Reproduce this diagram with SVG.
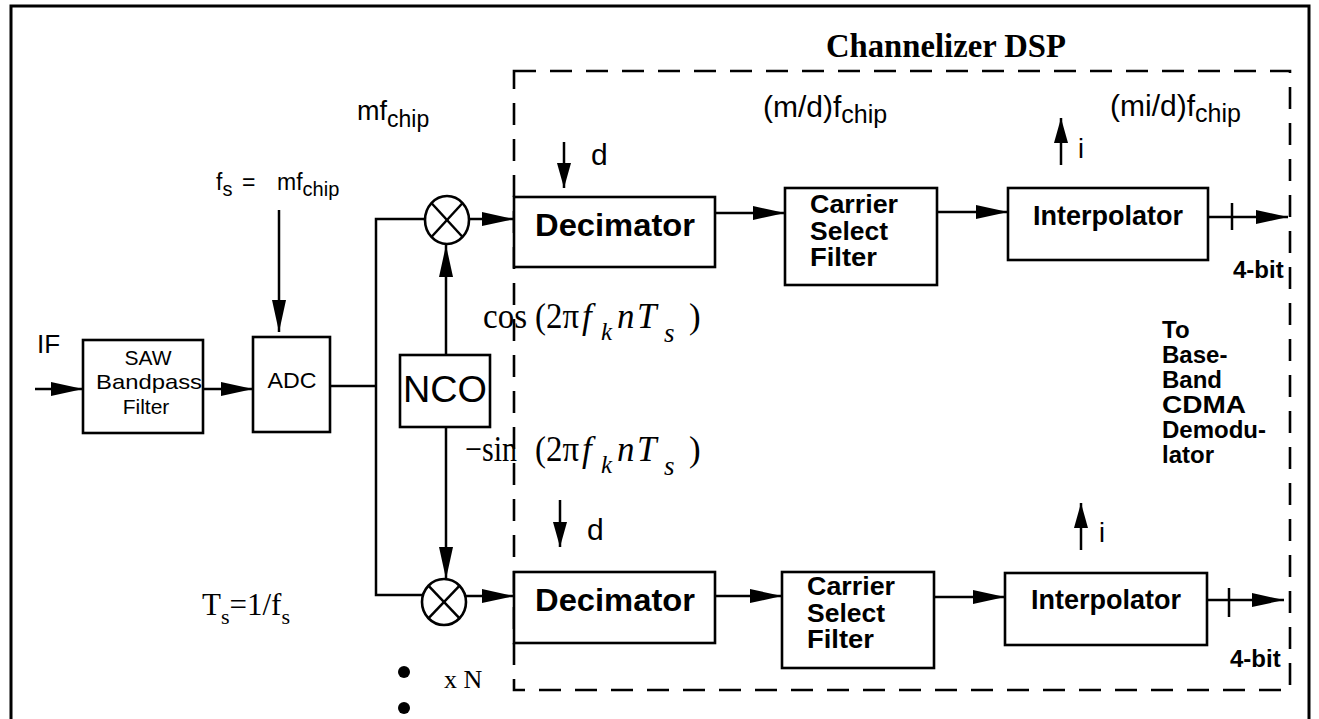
<svg xmlns="http://www.w3.org/2000/svg" width="1319" height="719" viewBox="0 0 1319 719">
<style>
.ln{stroke:#000;stroke-width:2.5;fill:none}
.bx{stroke:#000;stroke-width:2.6;fill:#fff}
.dash{stroke:#000;stroke-width:2.6;fill:none;stroke-dasharray:22 14}
.sans{font-family:"Liberation Sans",Arial,Helvetica,sans-serif;fill:#000}
.b{font-weight:bold}
.ser{font-family:"Liberation Serif","Times New Roman",serif;fill:#000}
.it{font-style:italic}
</style>
<defs>
<marker id="arr" markerUnits="userSpaceOnUse" markerWidth="32" markerHeight="14" refX="32" refY="7" orient="auto" viewBox="0 0 32 14">
<path d="M0,0 L32,7 L0,14 Z" fill="#000"/>
</marker>
<marker id="arrv" markerUnits="userSpaceOnUse" markerWidth="25" markerHeight="14" refX="25" refY="7" orient="auto" viewBox="0 0 25 14">
<path d="M0,0 L25,7 L0,14 Z" fill="#000"/>
</marker>
</defs>
<rect width="1319" height="719" fill="#fff"/>

<!-- outer frame -->
<rect x="11" y="6" width="1298" height="760" fill="none" stroke="#000" stroke-width="3"/>

<!-- Channelizer DSP boundary -->
<g id="channelizer">
<rect class="dash" x="514" y="71" width="776" height="619"/>
<text class="ser b" x="826" y="57" font-size="34" textLength="240" lengthAdjust="spacingAndGlyphs">Channelizer DSP</text>
</g>

<!-- connectors -->
<g id="connectors">
<line class="ln" x1="35" y1="389" x2="83" y2="389" marker-end="url(#arr)"/>
<line class="ln" x1="203" y1="389" x2="253" y2="389" marker-end="url(#arr)"/>
<line class="ln" x1="279" y1="210" x2="279" y2="332" marker-end="url(#arr)"/>
<polyline class="ln" points="330,386 376,386"/>
<polyline class="ln" points="425,219 376,219 376,595 422,595"/>
<line class="ln" x1="446" y1="355" x2="446" y2="245" marker-end="url(#arr)"/>
<line class="ln" x1="446" y1="427" x2="446" y2="579" marker-end="url(#arr)"/>
<line class="ln" x1="469" y1="219" x2="514" y2="219" marker-end="url(#arr)"/>
<line class="ln" x1="466" y1="596" x2="514" y2="596" marker-end="url(#arr)"/>
<line class="ln" x1="715" y1="213" x2="785" y2="213" marker-end="url(#arr)"/>
<line class="ln" x1="937" y1="212" x2="1008" y2="212" marker-end="url(#arr)"/>
<line class="ln" x1="1208" y1="217" x2="1288" y2="217" marker-end="url(#arr)"/>
<line class="ln" x1="1232" y1="203" x2="1232" y2="230"/>
<line class="ln" x1="715" y1="596" x2="782" y2="596" marker-end="url(#arr)"/>
<line class="ln" x1="934" y1="597" x2="1005" y2="597" marker-end="url(#arr)"/>
<line class="ln" x1="1207" y1="600" x2="1284" y2="600" marker-end="url(#arr)"/>
<line class="ln" x1="1229" y1="588" x2="1229" y2="617"/>
<!-- rate change arrows -->
<line class="ln" x1="564" y1="142" x2="564" y2="188" marker-end="url(#arrv)"/>
<line class="ln" x1="560" y1="500" x2="560" y2="547" marker-end="url(#arrv)"/>
<line class="ln" x1="1061" y1="165" x2="1061" y2="118" marker-end="url(#arrv)"/>
<line class="ln" x1="1081" y1="550" x2="1081" y2="503" marker-end="url(#arrv)"/>
</g>

<!-- nodes -->
<g id="saw">
<rect class="bx" x="83" y="340" width="120" height="93"/>
<text class="sans" x="148" y="365" font-size="21" text-anchor="middle">SAW</text>
<text class="sans" x="149" y="389" font-size="21" text-anchor="middle" textLength="106" lengthAdjust="spacingAndGlyphs">Bandpass</text>
<text class="sans" x="146" y="414" font-size="21" text-anchor="middle">Filter</text>
</g>
<g id="adc">
<rect class="bx" x="253" y="337" width="77" height="95"/>
<text class="sans" x="292" y="388" font-size="22" text-anchor="middle" textLength="49" lengthAdjust="spacingAndGlyphs">ADC</text>
</g>
<g id="nco">
<rect class="bx" x="400" y="355" width="90" height="72"/>
<text class="sans" x="445" y="402" font-size="36" text-anchor="middle" textLength="84" lengthAdjust="spacingAndGlyphs">NCO</text>
</g>
<g id="mixer-top">
<ellipse class="bx" cx="447" cy="220" rx="22" ry="24"/>
<line class="ln" x1="431.4" y1="203" x2="462.6" y2="237"/>
<line class="ln" x1="462.6" y1="203" x2="431.4" y2="237"/>
</g>
<g id="mixer-bottom">
<ellipse class="bx" cx="444" cy="602" rx="22" ry="23"/>
<line class="ln" x1="428.4" y1="585.7" x2="459.6" y2="618.3"/>
<line class="ln" x1="459.6" y1="585.7" x2="428.4" y2="618.3"/>
</g>
<g id="decimator-top">
<rect class="bx" x="514" y="197" width="201" height="70"/>
<text class="sans b" x="615" y="236" font-size="32" text-anchor="middle" textLength="160" lengthAdjust="spacingAndGlyphs">Decimator</text>
</g>
<g id="csf-top">
<rect class="bx" x="785" y="188" width="152" height="97"/>
<text class="sans b" x="810" y="213" font-size="25" textLength="88" lengthAdjust="spacingAndGlyphs">Carrier</text>
<text class="sans b" x="810" y="240" font-size="25" textLength="78" lengthAdjust="spacingAndGlyphs">Select</text>
<text class="sans b" x="810" y="266" font-size="25" textLength="67" lengthAdjust="spacingAndGlyphs">Filter</text>
</g>
<g id="interp-top">
<rect class="bx" x="1008" y="188" width="200" height="72"/>
<text class="sans b" x="1108" y="225" font-size="27" text-anchor="middle" textLength="150" lengthAdjust="spacingAndGlyphs">Interpolator</text>
</g>
<g id="decimator-bottom">
<rect class="bx" x="514" y="572" width="201" height="71"/>
<text class="sans b" x="615" y="611" font-size="32" text-anchor="middle" textLength="160" lengthAdjust="spacingAndGlyphs">Decimator</text>
</g>
<g id="csf-bottom">
<rect class="bx" x="782" y="572" width="152" height="96"/>
<text class="sans b" x="807" y="595" font-size="25" textLength="88" lengthAdjust="spacingAndGlyphs">Carrier</text>
<text class="sans b" x="807" y="622" font-size="25" textLength="78" lengthAdjust="spacingAndGlyphs">Select</text>
<text class="sans b" x="807" y="648" font-size="25" textLength="67" lengthAdjust="spacingAndGlyphs">Filter</text>
</g>
<g id="interp-bottom">
<rect class="bx" x="1005" y="573" width="202" height="72"/>
<text class="sans b" x="1106" y="609" font-size="27" text-anchor="middle" textLength="150" lengthAdjust="spacingAndGlyphs">Interpolator</text>
</g>

<!-- labels -->
<g id="labels">
<text class="sans" x="37" y="353" font-size="26">IF</text>
<text class="sans" x="357" y="120" font-size="27">mf<tspan dy="7" font-size="23">chip</tspan></text>
<text class="sans" x="216" y="190" font-size="23">f<tspan dy="6" font-size="20">s</tspan><tspan x="242" dy="-6">=</tspan><tspan x="277">mf</tspan><tspan dy="6" font-size="20">chip</tspan></text>
<text class="sans" x="591" y="165" font-size="30">d</text>
<text class="sans" x="587" y="540" font-size="30">d</text>
<text class="sans" x="763" y="117" font-size="30">(m/d)f<tspan dy="6" font-size="25">chip</tspan></text>
<text class="sans" x="1110" y="116" font-size="30">(mi/d)f<tspan dy="6" font-size="25">chip</tspan></text>
<text class="sans" x="1078" y="158" font-size="27">i</text>
<text class="sans" x="1099" y="542" font-size="27">i</text>
<text class="sans b" x="1233" y="278" font-size="24">4-bit</text>
<text class="sans b" x="1230" y="667" font-size="24">4-bit</text>
<text class="sans b" x="1162" y="338" font-size="24">To</text>
<text class="sans b" x="1162" y="363" font-size="24">Base-</text>
<text class="sans b" x="1162" y="388" font-size="24">Band</text>
<text class="sans b" x="1162" y="413" font-size="24" textLength="84" lengthAdjust="spacingAndGlyphs">CDMA</text>
<text class="sans b" x="1162" y="438" font-size="24">Demodu-</text>
<text class="sans b" x="1162" y="463" font-size="24">lator</text>
<text class="ser" font-size="35"><tspan x="483" y="328" textLength="44" lengthAdjust="spacingAndGlyphs">cos</tspan><tspan x="535" y="328" textLength="44" lengthAdjust="spacingAndGlyphs">(2π</tspan><tspan class="it" x="582" y="328">f</tspan><tspan class="it" x="601" y="340" font-size="25">k</tspan><tspan class="it" x="617" y="328">n</tspan><tspan class="it" x="637" y="328">T</tspan><tspan class="it" x="664" y="342" font-size="27">s</tspan><tspan x="689" y="328">)</tspan></text>
<text class="ser" font-size="35"><tspan x="465" y="461" textLength="52" lengthAdjust="spacingAndGlyphs">−sin</tspan><tspan x="535" y="461" textLength="44" lengthAdjust="spacingAndGlyphs">(2π</tspan><tspan class="it" x="582" y="461">f</tspan><tspan class="it" x="601" y="473" font-size="25">k</tspan><tspan class="it" x="617" y="461">n</tspan><tspan class="it" x="637" y="461">T</tspan><tspan class="it" x="664" y="475" font-size="27">s</tspan><tspan x="689" y="461">)</tspan></text>
<text class="ser" x="202" y="615" font-size="31">T<tspan dy="9" font-size="22">s</tspan><tspan dy="-9">=1/f</tspan><tspan dy="9" font-size="22">s</tspan></text>
<text class="ser" x="444" y="688" font-size="26">x N</text>
<circle cx="404" cy="672" r="6" fill="#000"/>
<circle cx="404" cy="708" r="6" fill="#000"/>
</g>
</svg>
